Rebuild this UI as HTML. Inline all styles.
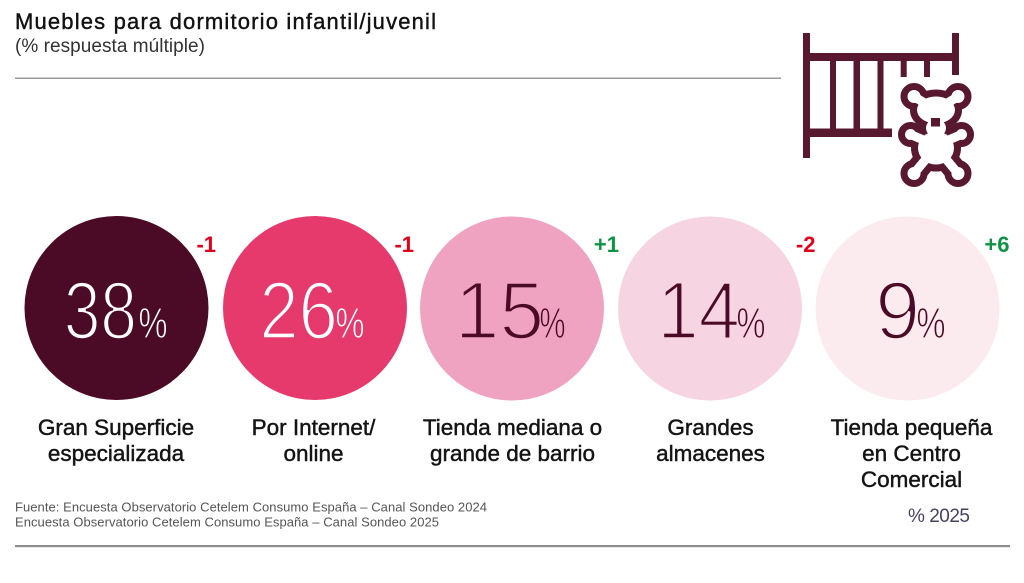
<!DOCTYPE html>
<html>
<head>
<meta charset="utf-8">
<style>
  html, body { margin: 0; padding: 0; background: #ffffff; }
  body { width: 1024px; height: 583px; overflow: hidden; }
  svg { display: block; }
  text { font-family: "Liberation Sans", "DejaVu Sans", sans-serif; }
</style>
</head>
<body>
<svg width="1024" height="583" viewBox="0 0 1024 583" xmlns="http://www.w3.org/2000/svg">
  <rect x="0" y="0" width="1024" height="583" fill="#ffffff"/>

  <!-- Title -->
  <text x="15" y="29" font-size="22" fill="#111" stroke="#111" stroke-width="0.4" textLength="421" lengthAdjust="spacing">Muebles para dormitorio infantil/juvenil</text>
  <text x="15" y="52" font-size="19" fill="#333" textLength="190" lengthAdjust="spacing">(% respuesta múltiple)</text>
  <rect x="15" y="77.5" width="766" height="1.5" fill="#9a9a9a"/>

  <!-- Icon: crib -->
  <g fill="#581830">
    <rect x="803" y="33" width="7" height="125"/>
    <rect x="952" y="33" width="7" height="42"/>
    <rect x="803" y="53" width="156" height="8"/>
    <rect x="803" y="128.5" width="89" height="8.5"/>
    <rect x="830" y="61" width="6" height="68"/>
    <rect x="853.5" y="61" width="6.5" height="68"/>
    <rect x="877.5" y="61" width="6" height="68"/>
    <rect x="900.7" y="61" width="6" height="16"/>
    <rect x="924" y="61" width="6" height="16"/>
  </g>

  <!-- Icon: teddy bear (outline = dilated union minus union) -->
  <g fill="#581830" stroke="#581830" stroke-width="14" stroke-linejoin="round">
    <circle cx="914" cy="96.5" r="6.5"/>
    <circle cx="958" cy="96.5" r="6.5"/>
    <ellipse cx="936" cy="110" rx="19" ry="13.5"/>
    <ellipse cx="936" cy="128" rx="10" ry="9"/>
    <ellipse cx="936" cy="148" rx="18" ry="16.5"/>
    <circle cx="910.5" cy="134.5" r="5.5"/>
    <circle cx="961.5" cy="134.5" r="5.5"/>
    <circle cx="914" cy="173.5" r="6.5"/>
    <circle cx="958" cy="173.5" r="6.5"/>
  </g>
  <g stroke="#581830" stroke-width="23" stroke-linecap="round">
    <line x1="914" y1="96.5" x2="926" y2="104"/>
    <line x1="958" y1="96.5" x2="946" y2="104"/>
    <line x1="910.5" y1="134.5" x2="926" y2="141"/>
    <line x1="961.5" y1="134.5" x2="946" y2="141"/>
    <line x1="914" y1="173.5" x2="926" y2="159"/>
    <line x1="958" y1="173.5" x2="946" y2="159"/>
  </g>
  <g fill="#ffffff">
    <circle cx="914" cy="96.5" r="6.5"/>
    <circle cx="958" cy="96.5" r="6.5"/>
    <ellipse cx="936" cy="110" rx="19" ry="13.5"/>
    <ellipse cx="936" cy="128" rx="10" ry="9"/>
    <ellipse cx="936" cy="148" rx="18" ry="16.5"/>
    <circle cx="910.5" cy="134.5" r="5.5"/>
    <circle cx="961.5" cy="134.5" r="5.5"/>
    <circle cx="914" cy="173.5" r="6.5"/>
    <circle cx="958" cy="173.5" r="6.5"/>
  </g>
  <g stroke="#ffffff" stroke-width="9" stroke-linecap="round">
    <line x1="914" y1="96.5" x2="926" y2="104"/>
    <line x1="958" y1="96.5" x2="946" y2="104"/>
    <line x1="910.5" y1="134.5" x2="926" y2="141"/>
    <line x1="961.5" y1="134.5" x2="946" y2="141"/>
    <line x1="914" y1="173.5" x2="926" y2="159"/>
    <line x1="958" y1="173.5" x2="946" y2="159"/>
  </g>
  <rect x="931" y="118" width="9" height="8.5" fill="#581830"/>

  <!-- Circles -->
  <circle cx="116.5" cy="308" r="92" fill="#4b0b26"/>
  <circle cx="315" cy="308" r="92" fill="#e6396c"/>
  <circle cx="512" cy="308.5" r="92" fill="#f0a2c1"/>
  <circle cx="710" cy="308.5" r="92" fill="#f7d4e2"/>
  <circle cx="907.5" cy="308.5" r="92" fill="#fcebee"/>

  <!-- Numbers -->
  <g font-size="82">
    <text x="63.9" y="338.5" fill="#ffffff" stroke="#4b0b26" stroke-width="2.5" textLength="73" lengthAdjust="spacingAndGlyphs">38</text>
    <text x="259.4" y="338.5" fill="#ffffff" stroke="#e6396c" stroke-width="2.5" textLength="78.4" lengthAdjust="spacingAndGlyphs">26</text>
    <text x="454.8" y="338.5" fill="#4b0b26" stroke="#f0a2c1" stroke-width="2.5" textLength="89.3" lengthAdjust="spacingAndGlyphs">15</text>
    <text x="657.4" y="338.5" fill="#4b0b26" stroke="#f7d4e2" stroke-width="2.5" textLength="82.5" lengthAdjust="spacingAndGlyphs">14</text>
    <text x="875.3" y="338.5" fill="#4b0b26" stroke="#fcebee" stroke-width="2.5" textLength="44.8" lengthAdjust="spacingAndGlyphs">9</text>
  </g>
  <g font-size="43">
    <text x="138.5" y="338" fill="#ffffff" stroke="#4b0b26" stroke-width="0.8" textLength="29" lengthAdjust="spacingAndGlyphs">%</text>
    <text x="335.5" y="338" fill="#ffffff" stroke="#e6396c" stroke-width="0.8" textLength="29" lengthAdjust="spacingAndGlyphs">%</text>
    <text x="539.5" y="338" fill="#4b0b26" stroke="#f0a2c1" stroke-width="0.8" textLength="26" lengthAdjust="spacingAndGlyphs">%</text>
    <text x="736.5" y="338" fill="#4b0b26" stroke="#f7d4e2" stroke-width="0.8" textLength="29" lengthAdjust="spacingAndGlyphs">%</text>
    <text x="916.5" y="338" fill="#4b0b26" stroke="#fcebee" stroke-width="0.8" textLength="29" lengthAdjust="spacingAndGlyphs">%</text>
  </g>

  <!-- Deltas -->
  <g font-size="22" font-weight="bold" text-anchor="end">
    <text x="216" y="252" fill="#e2001a">-1</text>
    <text x="414" y="252" fill="#e2001a">-1</text>
    <text x="619" y="252" fill="#0c9444">+1</text>
    <text x="815.5" y="252" fill="#e2001a">-2</text>
    <text x="1009.5" y="252" fill="#0c9444">+6</text>
  </g>

  <!-- Labels -->
  <g font-size="22.5" fill="#141414" stroke="#141414" stroke-width="0.45" text-anchor="middle">
    <text x="116" y="435">Gran Superficie</text>
    <text x="116" y="461">especializada</text>
    <text x="313.5" y="435">Por Internet/</text>
    <text x="313.5" y="461">online</text>
    <text x="512.5" y="435">Tienda mediana o</text>
    <text x="512.5" y="461">grande de barrio</text>
    <text x="710.5" y="435">Grandes</text>
    <text x="710.5" y="461">almacenes</text>
    <text x="911.5" y="435">Tienda pequeña</text>
    <text x="911.5" y="461">en Centro</text>
    <text x="911.5" y="487">Comercial</text>
  </g>

  <!-- Footer -->
  <text x="15" y="511.5" font-size="13" fill="#555" textLength="472" lengthAdjust="spacing">Fuente: Encuesta Observatorio Cetelem Consumo España – Canal Sondeo 2024</text>
  <text x="15" y="526.5" font-size="13" fill="#555" textLength="424" lengthAdjust="spacing">Encuesta Observatorio Cetelem Consumo España – Canal Sondeo 2025</text>
  <text x="908" y="522" font-size="19" fill="#4b4060" textLength="62" lengthAdjust="spacing">% 2025</text>
  <rect x="15" y="545" width="995" height="2.2" fill="#8c8c8c"/>
</svg>
</body>
</html>
